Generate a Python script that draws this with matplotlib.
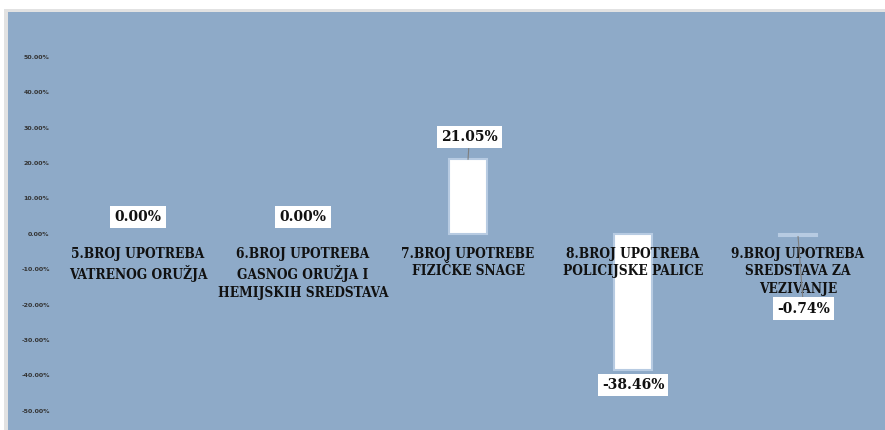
import numpy as np
import matplotlib
matplotlib.use('Agg')
import matplotlib.pyplot as plt
from matplotlib.patches import Rectangle

categories = ['5.BROJ UPOTREBA\nVATRENOG ORUŽJA',
              '6.BROJ UPOTREBA\nGASNOG ORUŽJA I\nHEMIJSKIH SREDSTAVA',
              '7.BROJ UPOTREBE\nFIZIČKE SNAGE',
              '8.BROJ UPOTREBA\nPOLICIJSKE PALICE',
              '9.BROJ UPOTREBA\nSREDSTAVA ZA\nVEZIVANJE']
values = [0.0, 0.0, 21.05, -38.46, -0.74]
value_labels = ['0.00%', '0.00%', '21.05%', '-38.46%', '-0.74%']
yticks = [-50, -40, -30, -20, -10, 0, 10, 20, 30, 40, 50]

bg = '#8eaac8'
serif = ['DejaVu Serif', 'Liberation Serif']

fig = plt.figure(figsize=(8.85, 4.3), dpi=100)
fig.patch.set_facecolor('white')

# soft shadow behind the chart area
fig.patches.append(Rectangle((4 / 885, 0), 1, (430 - 9) / 430, transform=fig.transFigure,
                             facecolor='#e2e2e2', edgecolor='none', zorder=-5))
ax = fig.add_axes([8 / 885, 0, 877 / 885, 418 / 430])
ax.set_zorder(2)
ax.set_facecolor(bg)
for s in ax.spines.values():
    s.set_visible(False)

x = np.arange(len(categories))
edges = ['#b7cbe2' if v != 0 else 'none' for v in values]
ax.bar(x, values, width=0.23, color='white', edgecolor=edges, linewidth=1.5, zorder=2)

ax.set_xlim(-0.788, 4.527)
ax.set_ylim(-55.5, 62.75)
ax.set_xticks([])
ax.set_yticks(yticks)
ax.set_yticklabels([f'{t:.2f}%' for t in yticks], fontsize=4.5, color='#333333', fontweight='bold')
ax.tick_params(axis='y', length=0, pad=-30)

# category labels just below the zero line
for i, c in enumerate(categories):
    ax.annotate(c, (x[i], 0), xytext=(0, -9.5), textcoords='offset points',
                ha='center', va='top', fontsize=9.8, fontweight='bold', fontstretch='condensed',
                family=serif, color='#111111', linespacing=1.3, zorder=3)

# data labels in white boxes
offsets = [(0, 12), (0, 12), (1, 16), (0, -11), (4, -52)]
leaders = [False, False, True, False, True]
for i, (v, lab) in enumerate(zip(values, value_labels)):
    arrow = dict(arrowstyle='-', color='#7f7f7f', lw=0.8, shrinkA=0, shrinkB=0) if leaders[i] else None
    ax.annotate(lab, (x[i], v), xytext=offsets[i], textcoords='offset points',
                ha='center', va='center', fontsize=10, fontweight='bold', family=['DejaVu Serif'],
                color='#111111', zorder=4,
                bbox=dict(boxstyle='square,pad=0.3', facecolor='white', edgecolor='none'),
                arrowprops=arrow)

fig.savefig('out.png', dpi=100)
